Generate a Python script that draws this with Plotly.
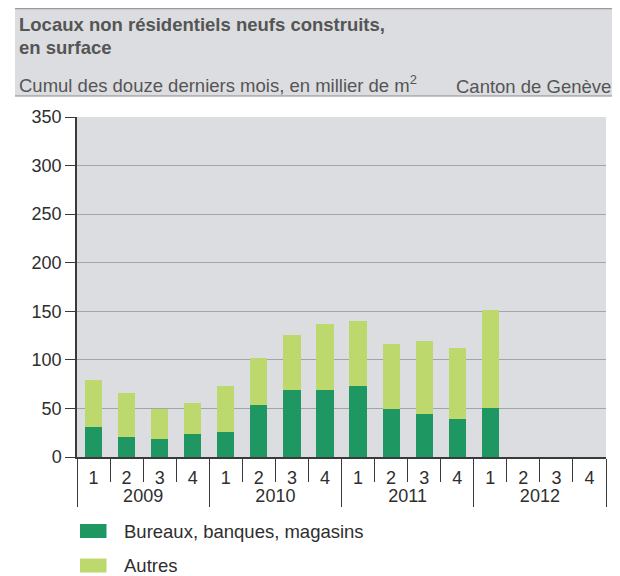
import plotly.graph_objects as go

years = ["2009"] * 4 + ["2010"] * 4 + ["2011"] * 4 + ["2012"] * 4
quarters = ["1", "2", "3", "4"] * 4
bureaux = [31, 21, 19, 24, 26, 54, 69, 69, 73, 49, 44, 39, 50, None, None, None]
totals = [79, 66, 49, 56, 73, 102, 126, 137, 140, 116, 119, 112, 151, None, None, None]
autres = [None if t is None else t - b for t, b in zip(totals, bureaux)]
yticks = [0, 50, 100, 150, 200, 250, 300, 350]
series_names = ["Bureaux, banques, magasins", "Autres"]

DARK = "#1f9762"
LIGHT = "#bdd96d"
BG = "#dcdde0"
GRID = "#a3a4a6"
AXIS = "#3a3a3a"
TXT = "#2e2e2e"
FONT = "Liberation Sans, Arial, sans-serif"

# the page shows the figure with an 8px body offset
OFF = 8
W, H = 620 - OFF, 576 - OFF
# plot area in screen pixels
L, R, T, B = 77, 606, 117, 457


def px(xpix):
    return (xpix - L) / (R - L)


def py(ypix):
    return (B - ypix) / (B - T)


fig = go.Figure()
fig.add_trace(go.Bar(x=[years, quarters], y=bureaux, name=series_names[0],
                     marker=dict(color=DARK, line=dict(width=0))))
fig.add_trace(go.Bar(x=[years, quarters], y=autres, name=series_names[1],
                     marker=dict(color=LIGHT, line=dict(width=0))))

fig.update_layout(
    width=W, height=H,
    margin=dict(l=L - OFF, r=W - (R - OFF), t=T - OFF, b=H - (B - OFF), pad=0),
    paper_bgcolor="white",
    plot_bgcolor=BG,
    barmode="stack",
    bargap=0.48,
    font=dict(family=FONT, size=18, color=TXT),
    showlegend=False,
    xaxis=dict(type="multicategory", automargin=False, showgrid=False, ticks="outside",
               tickson="boundaries", ticklen=23, tickcolor=AXIS, tickwidth=1,
               showline=True, linecolor=AXIS, linewidth=1.5,
               showdividers=True, dividercolor=AXIS, dividerwidth=1,
               ticklabelstandoff=4,
               tickfont=dict(size=18, color=TXT), zeroline=False),
    xaxis2=dict(overlaying="x", automargin=False, range=[-0.5, 15.5], tickvals=[3.5, 7.5, 11.5, 15.5],
                showgrid=True, gridcolor=GRID, gridwidth=1, showticklabels=False,
                ticks="", showline=False, zeroline=False, side="top"),
    yaxis=dict(range=[0, 350], automargin=False, tickvals=yticks, showgrid=True, gridcolor=GRID,
               gridwidth=1, ticks="outside", ticklen=10, tickcolor=AXIS, showline=True,
               linecolor=AXIS, linewidth=1.5, zeroline=False, tickfont=dict(size=18, color=TXT)),
)

# header block
fig.add_shape(type="rect", xref="paper", yref="paper", x0=px(15), x1=px(614), y0=py(96), y1=py(8),
              fillcolor=BG, line=dict(width=0), layer="below")
fig.add_shape(type="line", xref="paper", yref="paper", x0=px(15), x1=px(614), y0=py(8.7), y1=py(8.7),
              line=dict(color="#9a9a9a", width=1.2))
fig.add_shape(type="line", xref="paper", yref="paper", x0=px(15), x1=px(614), y0=py(96), y1=py(96),
              line=dict(color="#8a8a8a", width=1.2))

TITLE_C = "#555555"
fig.add_annotation(xref="paper", yref="paper", x=px(17), y=py(24), xanchor="left", yanchor="middle",
                   text="<b>Locaux non résidentiels neufs construits,</b>", showarrow=False,
                   font=dict(size=18.5, color=TITLE_C, family=FONT))
fig.add_annotation(xref="paper", yref="paper", x=px(17), y=py(47), xanchor="left", yanchor="middle",
                   text="<b>en surface</b>", showarrow=False,
                   font=dict(size=18.5, color=TITLE_C, family=FONT))
fig.add_annotation(xref="paper", yref="paper", x=px(17), y=py(84), xanchor="left", yanchor="middle",
                   text="Cumul des douze derniers mois, en millier de m<sup>2</sup>", showarrow=False,
                   font=dict(size=18.5, color=TITLE_C, family=FONT))
fig.add_annotation(xref="paper", yref="paper", x=px(613), y=py(86), xanchor="right", yanchor="middle",
                   text="Canton de Genève", showarrow=False,
                   font=dict(size=18.5, color=TITLE_C, family=FONT))

# legend (drawn manually to match the wide swatches)
for i, (name, col) in enumerate(zip(series_names, [DARK, LIGHT])):
    yc = 531 + 34.5 * i
    fig.add_shape(type="rect", xref="paper", yref="paper", x0=px(80), x1=px(106.5),
                  y0=py(yc + 7), y1=py(yc - 7), fillcolor=col, line=dict(width=0))
    fig.add_annotation(xref="paper", yref="paper", x=px(122), y=py(yc), xanchor="left",
                       yanchor="middle", text=name, showarrow=False,
                       font=dict(size=18.5, color=TXT, family=FONT))

fig.write_html("out.html")
